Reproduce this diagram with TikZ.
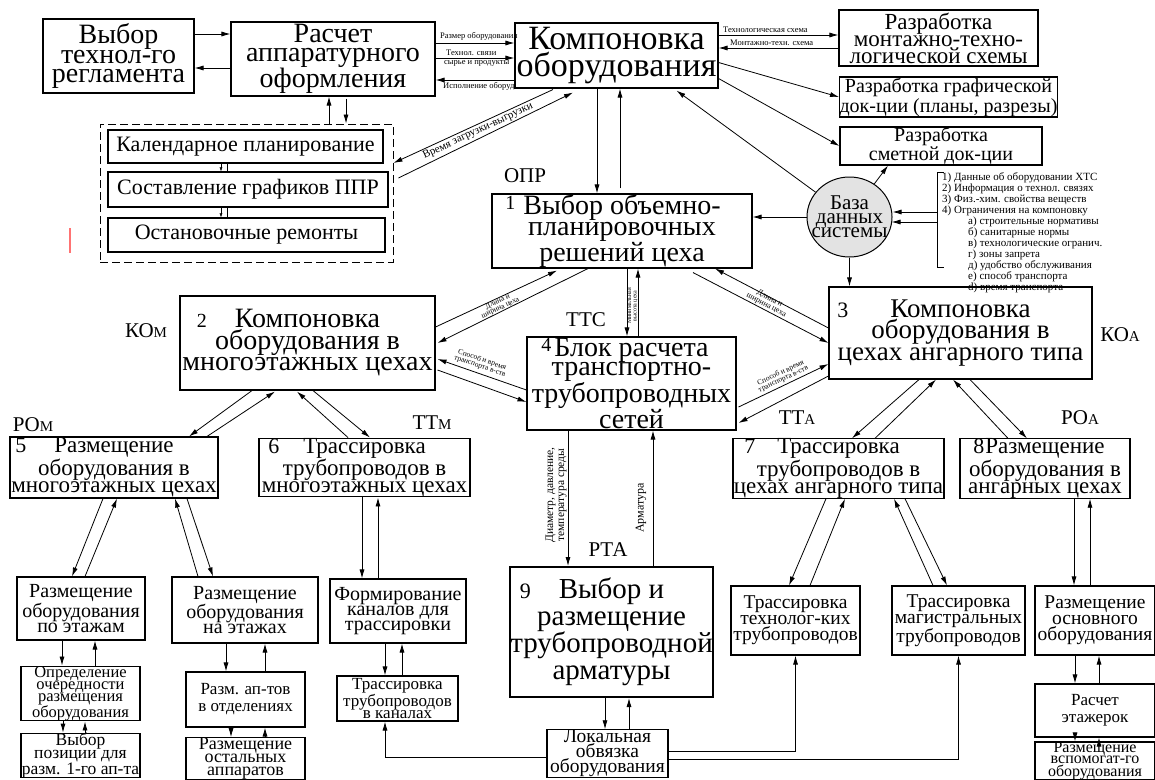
\documentclass[tikz,border=0pt]{standalone}
\usepackage{fontspec}
\setmainfont{Liberation Serif}
\usetikzlibrary{arrows.meta,calc,shapes.geometric}
\newcommand\fz[2]{\fontsize{#1pt}{#2pt}\selectfont}

\begin{document}
\begin{tikzpicture}[x=1pt,y=-1pt,
  blk/.style={draw, line width=1.1pt, inner sep=0pt, align=center},
  arr/.style={line width=0.8pt, -{Latex[length=9pt,width=5pt]}},
  sarr/.style={line width=0.5pt, -{Latex[length=4pt,width=3pt]}},
  ln/.style={line width=0.8pt},
  lbl/.style={inner sep=0pt, font=\fz{21}{21}},
  smalltxt/.style={inner sep=0pt, align=center, font=\fz{8.5}{7.5}},
]
\fill[white] (0,0) rectangle (1155,779);
\useasboundingbox (0,0) rectangle (1155,779);

% ---------- top row ----------
\node[blk, minimum width=151pt, minimum height=74pt, font=\fz{28}{19}] (n1) at (118.5,56) {Выбор\\технол-го\\регламента};
\node[blk, minimum width=204pt, minimum height=74pt, font=\fz{28}{19}] (n2) at (333,59) {Расчет\\аппаратурного\\оформления};
\node[blk, minimum width=203pt, minimum height=65pt, font=\fz{34}{27}] (n3) at (616.5,55.5) {Компоновка\\оборудования};
\node[blk, minimum width=199pt, minimum height=56pt, font=\fz{23}{17}] (n4) at (938.5,38) {Разработка\\монтажно-техно-\\логической схемы};
\node[blk, minimum width=211pt, minimum height=40pt, font=\fz{20}{20}] (n5) at (948.5,97) {Разработка графической\\док-ции (планы, разрезы)};
\node[blk, minimum width=202pt, minimum height=38pt, font=\fz{20}{16}] (n6) at (941,146) {Разработка\\сметной док-ции};

% ---------- planning group ----------
\node[draw, line width=0.9pt, dash pattern=on 8pt off 4pt, minimum width=293pt, minimum height=138pt, inner sep=0pt] (grp) at (246.5,193) {};
\node[blk, minimum width=275pt, minimum height=33pt, font=\fz{22}{22}] (k1) at (245.5,146.5) {Календарное планирование};
\node[blk, minimum width=280pt, minimum height=35pt, font=\fz{22}{22}] (k2) at (248,189.5) {Составление графиков ППР};
\node[blk, minimum width=277pt, minimum height=34pt, font=\fz{22}{22}] (k3) at (246.5,235) {Остановочные ремонты};

% ---------- level 1 ----------
\node[blk, minimum width=260pt, minimum height=74pt, font=\fz{28}{21}] (b1) at (622,231) {\llap{\raisebox{5pt}{\fz{20}{20}1}\hspace{8pt}}Выбор объемно-\\планировочных\\решений цеха};
\node[ellipse, draw, fill=gray!22, line width=1pt, minimum width=85pt, minimum height=80pt, inner sep=0pt] (db) at (849.5,217) {};
\node[inner sep=0pt, align=center, font=\fz{21}{14}] (dbt) at (db) {База\\данных\\системы};

% legend bracket
\coordinate (brT) at (937,172);
\coordinate (brB) at (937,267);
\draw[ln] ($(brT)+(7,0)$) -- (brT) -- (brB) -- ($(brB)+(7,0)$);
\node[anchor=north west, inner sep=0pt, align=left, font=\fz{11}{8.6}] (leg) at (942,172) {1) Данные об оборудовании ХТС\\2) Информация о технол. связях\\3) Физ.-хим. свойства веществ\\4) Ограничения на компоновку\\
\hspace*{26pt}а) строительные нормативы\\\hspace*{26pt}б) санитарные нормы\\\hspace*{26pt}в) технологические огранич.\\\hspace*{26pt}г) зоны запрета\\\hspace*{26pt}д) удобство обслуживания\\\hspace*{26pt}e) способ транспорта\\\hspace*{26pt}d) время транспорта};

% ---------- level 2 ----------
\node[blk, minimum width=255pt, minimum height=94pt, font=\fz{28}{21.5}] (b2) at (307.5,343) {\llap{\fz{20}{20}2\hspace{28pt}}Компоновка\\оборудования в\\многоэтажных цехах};
\node[blk, minimum width=263pt, minimum height=92pt, font=\fz{27}{21.5}] (b3) at (960.5,333) {\llap{\fz{22}{22}3\hspace{42pt}}Компоновка\\оборудования в\\цехах ангарного типа};
\node[blk, minimum width=209pt, minimum height=93pt, font=\fz{28}{19.5}] (b4) at (631.5,383.5) {\llap{\raisebox{5pt}{\fz{20}{20}4}\hspace{3pt}}Блок расчета\\транспортно-\\трубопроводных\\сетей};

% ---------- level 3 ----------
\node[blk, minimum width=208pt, minimum height=61pt, font=\fz{23}{17.5}] (b5) at (114,467.5) {\llap{\fz{22}{22}5\hspace{28pt}}Размещение\\оборудования в\\многоэтажных цехах};
\node[blk, minimum width=211pt, minimum height=55pt, font=\fz{23}{17}] (b6) at (364.5,467.5) {\llap{\fz{22}{22}6\hspace{24pt}}Трассировка\\трубопроводов в\\многоэтажных цехах};
\node[blk, minimum width=211pt, minimum height=57pt, font=\fz{23}{17}] (b7) at (838.5,468.5) {\llap{\fz{22}{22}7\hspace{22pt}}Трассировка\\трубопроводов в\\цехах ангарного типа};
\node[blk, minimum width=170pt, minimum height=57pt, font=\fz{23}{17}] (b8) at (1045,468.5) {\llap{\fz{22}{22}8\hspace{1pt}}Размещение\\оборудования в\\ангарных цехах};

% ---------- bottom ----------
\node[blk, minimum width=128pt, minimum height=63pt, font=\fz{20}{15}] (c1) at (81,608.5) {Размещение\\оборудования\\по этажам};
\node[blk, minimum width=146pt, minimum height=66pt, font=\fz{20}{15}] (c2) at (245,610) {Размещение\\оборудования\\на этажах};
\node[blk, minimum width=136pt, minimum height=64pt, font=\fz{20}{15}] (c3) at (398,611) {Формирование\\каналов для\\трассировки};
\node[blk, minimum width=119pt, minimum height=53pt, font=\fz{16.5}{12}] (d1) at (80.5,693.5) {Определение\\очередности\\размещения\\оборудования};
\node[blk, minimum width=119pt, minimum height=55pt, font=\fz{17}{17}] (d2) at (245.5,699.5) {Разм. ап-тов\\в отделениях};
\node[blk, minimum width=121pt, minimum height=45pt, font=\fz{17}{12.5}] (d3) at (397.5,698.5) {Трассировка\\трубопроводов\\в каналах};
\node[blk, minimum width=119pt, minimum height=41pt, font=\fz{17.5}{12.5}] (e1) at (80.5,755.5) {Выбор\\позиции для\\разм. 1-го ап-та};
\node[blk, minimum width=119pt, minimum height=41pt, font=\fz{18}{13}] (e2) at (245.5,758.5) {Размещение\\остальных\\аппаратов};
\node[blk, line width=2pt, minimum width=203pt, minimum height=130pt, font=\fz{29}{27}] (b9) at (611.5,632) {\llap{\fz{22}{22}9\hspace{28pt}}Выбор и\\размещение\\трубопроводной\\арматуры};
\node[blk, minimum width=121pt, minimum height=45pt, font=\fz{19.5}{14}] (lo) at (607.5,753.5) {Локальная\\обвязка\\оборудования};
\node[blk, minimum width=129pt, minimum height=69pt, font=\fz{19.5}{16}] (t1) at (795.5,620.5) {Трассировка\\технолог-ких\\трубопроводов};
\node[blk, minimum width=133pt, minimum height=69pt, font=\fz{19.5}{16}] (t2) at (958.5,620.5) {Трассировка\\магистральных\\трубопроводов};
\node[blk, minimum width=120pt, minimum height=69pt, font=\fz{19.5}{16}] (r1) at (1095,620.5) {Размещение\\основного\\оборудования};
\node[blk, minimum width=120pt, minimum height=53pt, font=\fz{17}{17}] (r2) at (1095,710.5) {Расчет\\этажерок};
\node[blk, minimum width=120pt, minimum height=38pt, font=\fz{16}{11.5}] (r3) at (1095,761) {Размещение\\вспомогат-го\\оборудования};

% ---------- side labels ----------
\node[lbl] (lOPR) at (525,176) {ОПР};
\node[lbl] (lTTC) at (586,320) {ТТС};
\node[lbl] (lKOm) at (146,331) {КО{\fz{15}{15}М}};
\node[lbl] (lKOa) at (1120,335) {КО{\fz{15}{15}А}};
\node[lbl] (lROm) at (33,425) {РО{\fz{15}{15}М}};
\node[lbl] (lTTm) at (432,423) {ТТ{\fz{15}{15}М}};
\node[lbl] (lTTa) at (797,418) {ТТ{\fz{15}{15}А}};
\node[lbl] (lROa) at (1080,418) {РО{\fz{15}{15}А}};
\node[lbl] (lRTA) at (608,550) {РТА};

% ---------- connectors: top row ----------
\draw[arr] ($(n1.east)+(0,-22)$) -- ($(n2.west)+(0,-25)$);
\draw[arr] ($(n2.west)+(0,9)$) -- ($(n1.east)+(0,12)$);
\draw[arr] ($(n2.east)+(0,-16)$) -- ($(n3.west)+(0,-12.5)$);
\draw[arr] ($(n2.east)+(0,-1)$) -- ($(n3.west)+(0,2.5)$);
\draw[arr] ($(n3.west)+(0,24.5)$) -- ($(n2.east)+(0,21)$);
\node[smalltxt, anchor=south west] (tA) at (440,41) {Размер оборудования};
\node[smalltxt, anchor=south west] (tB) at (446,56) {Технол. связи};
\node[smalltxt, anchor=north west] (tC) at (444,60) {сырье и продукты};
\node[smalltxt, anchor=north west] (tD) at (443,82) {Исполнение оборуд.};

\draw[arr] ($(n3.east)+(0,-20.5)$) -- ($(n4.west)+(0,-3)$);
\draw[arr] ($(n4.west)+(0,10)$) -- ($(n3.east)+(0,-7.5)$);
\node[smalltxt, anchor=south west] (tE) at (723,33) {Технологическая схема};
\node[smalltxt, anchor=south west] (tF) at (730,46) {Монтажно-техн. схема};
\draw[arr] ($(n3.east)+(0,7)$) -- (n5.west);
\draw[arr] ($(n3.east)+(0,23)$) -- (n6.west);
\draw[arr] (db) -- ($(n3.south)+(60,2)$);
\draw[arr] (db) -- ($(n6.south)+(-53,0)$);

% Компоновка <-> выбор ОПР
\draw[arr] ($(n3.south)+(-19.5,0)$) -- ($(b1.north)+(-25,0)$);
\draw[arr] ($(b1.north)+(-2,-5)$) -- ($(n3.south)+(3.5,0)$);

% Расчет <-> planning group
\draw[arr] ($(grp.north)+(82.5,0)$) -- ($(n2.south)+(-4,0)$);
\draw[arr] ($(n2.south)+(13,2)$) -- ($(grp.north)+(99.5,0)$);
\draw[sarr] ($(k1.south)+(-24.5,0)$) -- ($(k2.north)+(-27,0)$);
\draw[line width=0.5pt] ($(k2.north)+(-21,0)$) -- ($(k1.south)+(-18.5,0)$);
\draw[sarr] ($(k2.south)+(-27,0)$) -- ($(k3.north)+(-25.5,0)$);
\draw[line width=0.5pt] ($(k3.north)+(-19.5,0)$) -- ($(k2.south)+(-21,0)$);

% загрузка-выгрузка
\draw[arr] ($(n3.south)+(-63.5,1)$) -- ($(grp.east)+(0,-30)$);
\draw[arr] ($(grp.east)+(5,-15)$) -- ($(n3.south)+(-43.5,4)$);
\node[inner sep=0pt, rotate=25, font=\fz{11}{11}] (tG) at (478,131) {Время загрузки-выгрузки};

% база данных
\draw[arr] (db.west) -- (db.west -| b1.east);
\draw[arr] ($(brT)+(0,40)$) -- ($(db.east)+(0,-5)$);
\draw[arr] ($(brT)+(0,50)$) -- ($(db.east)+(-1,5)$);
\draw[arr] (db.south) -- (db.south |- b3.north);

% ---------- connectors: level 1 -> level 2 ----------
\draw[arr] ($(b2.east)+(0,-16)$) -- ($(b1.south)+(-65,2)$);
\draw[arr] ($(b1.south)+(-34,0)$) -- ($(b2.east)+(2,0)$);
\node[inner sep=0pt, align=center, rotate=25, font=\fz{7.5}{6.5}] (tH) at (499,305) {Длина и\\ширина цеха};
\draw[arr] ($(b1.south)+(71,4)$) -- ($(b3.west)+(0,10)$);
\draw[arr] ($(b3.west)+(0,-5)$) -- ($(b1.south)+(93,0)$);
\node[inner sep=0pt, align=center, rotate=-28, font=\fz{8}{7}] (tI) at (768,302) {Длина и\\ширина цеха};
\draw[arr] ($(b1.south)+(5,0)$) -- ($(b4.north)+(-4.5,0)$);
\draw[arr] ($(b4.north)+(6.5,0)$) -- ($(b1.south)+(16,0)$);
\node[inner sep=0pt, align=center, rotate=90, font=\fz{6}{5.5}] (tJ) at (632.5,306) {Минимальная\\высота цеха};

\draw[arr] ($(b4.west)+(0,6.5)$) -- ($(b2.east)+(2,16)$);
\draw[arr] ($(b2.east)+(2,27)$) -- ($(b4.west)+(0,18.5)$);
\node[inner sep=0pt, align=center, rotate=-19, font=\fz{7.5}{6.5}] (tK) at (481,363) {Способ и время\\транспорта в-ств};
\draw[arr] ($(b4.east)+(2,23.5)$) -- ($(b3.west)+(0,31)$);
\draw[arr] ($(b3.west)+(0,43)$) -- ($(b4.east)+(2,39.5)$);
\node[inner sep=0pt, align=center, rotate=25, font=\fz{7.5}{6.5}] (tL) at (782,376) {Способ и время\\транспорта в-ств};

% ---------- connectors: level 2 -> level 3 ----------
\draw[arr] ($(b2.south)+(-55.5,0)$) -- ($(b5.north)+(75,0)$);
\draw[arr] ($(b5.north)+(93,0)$) -- ($(b2.south)+(-32.5,1)$);
\draw[arr] ($(b6.north)+(-16.5,0)$) -- ($(b2.south)+(-10.5,1)$);
\draw[arr] ($(b2.south)+(5.5,0)$) -- ($(b6.north)+(5.5,0)$);
\draw[arr] ($(b3.south)+(-41.5,0)$) -- ($(b7.north)+(13.5,0)$);
\draw[arr] ($(b7.north)+(36.5,0)$) -- ($(b3.south)+(-24.5,0)$);
\draw[arr] ($(b8.north)+(-37,0)$) -- ($(b3.south)+(-7.5,0)$);
\draw[arr] ($(b3.south)+(9.5,0)$) -- ($(b8.north)+(-18,0)$);

\draw[arr] ($(b4.south)+(-63.5,0)$) -- ($(b9.north)+(-43.5,0)$);
\draw[arr] ($(b9.north)+(41.5,0)$) -- ($(b4.south)+(21.5,0)$);
\node[inner sep=0pt, align=center, rotate=90, font=\fz{11.5}{11}] (tM) at (556,495) {Диаметр, давление,\\температура среды};
\node[inner sep=0pt, rotate=90, font=\fz{12}{12}] (tN) at (641,508) {Арматура};

% ---------- connectors: level 3 -> bottom ----------
\draw[arr] ($(b5.south)+(-11,0)$) -- ($(c1.north)+(-9,0)$);
\draw[arr] ($(c1.north)+(4,0)$) -- ($(b5.south)+(3,0)$);
\draw[arr] ($(c2.north)+(-47,0)$) -- ($(b5.south)+(61,0)$);
\draw[arr] ($(b5.south)+(73,0)$) -- ($(c2.north)+(-32,0)$);
\draw[arr] ($(b6.south)+(-2.5,0)$) -- ($(c3.north)+(-36,0)$);
\draw[arr] ($(c3.north)+(-20,0)$) -- ($(b6.south)+(13.5,0)$);

\draw[arr] ($(c1.south)+(-19,0)$) -- ($(d1.north)+(-18.5,0)$);
\draw[arr] ($(d1.north)+(14.5,0)$) -- ($(c1.south)+(14,0)$);
\draw[arr] ($(d1.south)+(-17.5,0)$) -- ($(e1.north)+(-17.5,0)$);
\draw[arr] ($(e1.north)+(4.5,0)$) -- ($(d1.south)+(4.5,0)$);
\draw[arr] ($(c2.south)+(-19,0)$) -- ($(d2.north)+(-19.5,0)$);
\draw[arr] ($(d2.north)+(19.5,0)$) -- ($(c2.south)+(20,0)$);
\draw[arr] ($(d2.south)+(-14.5,0)$) -- ($(e2.north)+(-14.5,0)$);
\draw[arr] ($(e2.north)+(19.5,0)$) -- ($(d2.south)+(19.5,0)$);
\draw[arr] ($(c3.south)+(-13,0)$) -- ($(d3.north)+(-12.5,0)$);
\draw[arr] ($(d3.north)+(4.5,0)$) -- ($(c3.south)+(4,0)$);

\draw[arr] ($(b9.south)+(-6.5,0)$) -- ($(lo.north)+(-2.5,0)$);
\draw[arr] ($(lo.north)+(21.5,0)$) -- ($(b9.south)+(17.5,0)$);
\draw[arr] ($(lo.west)+(0,4)$) -| ($(d3.south)+(-12.5,0)$);
\draw[arr] ($(lo.east)+(0,-2)$) -| (t1.south);
\draw[arr] ($(lo.east)+(0,6)$) -| (t2.south);

\draw[arr] ($(b7.south)+(-12.5,0)$) -- ($(t1.north)+(-6.5,0)$);
\draw[arr] ($(t1.north)+(14.5,0)$) -- ($(b7.south)+(6.5,0)$);
\draw[arr] ($(t2.north)+(-25.5,0)$) -- ($(b7.south)+(55.5,0)$);
\draw[arr] ($(b7.south)+(66.5,0)$) -- ($(t2.north)+(-11.5,0)$);

\draw[arr] ($(b8.south)+(29,0)$) -- ($(r1.north)+(-21,0)$);
\draw[arr] ($(r1.north)+(-5,0)$) -- ($(b8.south)+(45,0)$);
\draw[arr] ($(r1.south)+(-20,0)$) -- ($(r2.north)+(-20,0)$);
\draw[arr] ($(r2.north)+(4,0)$) -- ($(r1.south)+(4,0)$);
\draw[arr] ($(r2.south)+(-20,0)$) -- ($(r3.north)+(-20,0)$);
\draw[arr] ($(r3.north)+(4,0)$) -- ($(r2.south)+(4,0)$);

% stray pen mark
\draw[red!55!white, line width=1.3pt] (70,228) -- (70,253);
\end{tikzpicture}
\end{document}
